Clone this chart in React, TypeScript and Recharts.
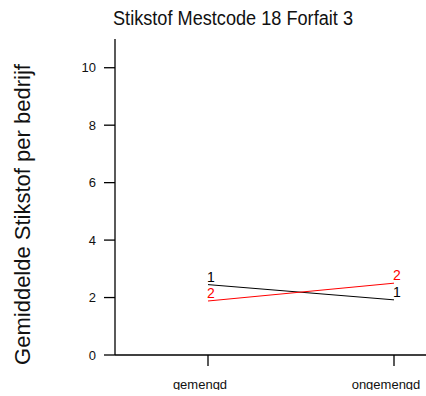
import React from "react";
import { LineChart, Line, XAxis, YAxis, LabelList } from "recharts";

const categories = ["gemengd", "ongemengd"];
const series1 = [2.45, 1.92];
const series2 = [1.88, 2.5];
const yTicks = [0, 2, 4, 6, 8, 10];
const title = "Stikstof Mestcode 18 Forfait 3";
const yLabel = "Gemiddelde Stikstof per bedrijf";

const data = categories.map((c, i) => ({ x: i, name: c, s1: series1[i], s2: series2[i] }));

const font = "'Liberation Sans', Arial, sans-serif";

const makeLabel = (text: string, color: string) => (props: any) => {
  const { x, y } = props;
  return (
    <text x={x + 3} y={y - 8} fill={color} fontSize={14} fontFamily={font} textAnchor="middle" dominantBaseline="central">
      {text}
    </text>
  );
};

const XTick = (props: any) => {
  const { x, y, payload } = props;
  return (
    <text x={x - 8} y={y} dy={10} fill="#111" fontSize={13} fontFamily={font} textAnchor="middle">
      {categories[payload.value]}
    </text>
  );
};

export default function App() {
  return (
    <div style={{ position: "absolute", left: 0, top: 0, width: 426, height: 390, overflow: "hidden", background: "#fff" }}>
      <svg width={426} height={60} style={{ position: "absolute", left: 0, top: 0 }}>
        <text x={113} y={25} fontSize={20} textLength={240} lengthAdjust="spacingAndGlyphs" fontFamily={font} textAnchor="start" fill="#111">
          {title}
        </text>
      </svg>
      <svg width={60} height={396} style={{ position: "absolute", left: 0, top: 0 }}>
        <text x={30} y={214.5} fontSize={22} fontFamily={font} textAnchor="middle" fill="#111" transform="rotate(-90 30 214.5)">
          {yLabel}
        </text>
      </svg>
      <div style={{ position: "absolute", left: 0, top: 0 }}>
        <LineChart width={500} height={400} data={data} margin={{ top: 39, right: 13, left: 0, bottom: 0 }}>
          <XAxis
            dataKey="x"
            type="number"
            domain={[-0.5, 1.5]}
            ticks={[0, 1]}
            height={45}
            tickSize={11}
            tickMargin={13}
            stroke="#000"
            tick={<XTick />}
            axisLine={{ stroke: "#000", strokeWidth: 1.3 }}
            tickLine={{ stroke: "#000", strokeWidth: 1.3 }}
          />
          <YAxis
            type="number"
            domain={[0, 11]}
            ticks={yTicks}
            width={115}
            tickSize={11}
            tickMargin={8}
            stroke="#000"
            tick={{ fill: "#111", fontSize: 13, fontFamily: font }}
            axisLine={{ stroke: "#000", strokeWidth: 1.3 }}
            tickLine={{ stroke: "#000", strokeWidth: 1.3 }}
          />
          <Line dataKey="s1" stroke="#000" strokeWidth={1} dot={false} isAnimationActive={false}>
            <LabelList dataKey="s1" content={makeLabel("1", "#000")} />
          </Line>
          <Line dataKey="s2" stroke="#ff0000" strokeWidth={1} dot={false} isAnimationActive={false}>
            <LabelList dataKey="s2" content={makeLabel("2", "#ff0000")} />
          </Line>
        </LineChart>
      </div>
    </div>
  );
}
